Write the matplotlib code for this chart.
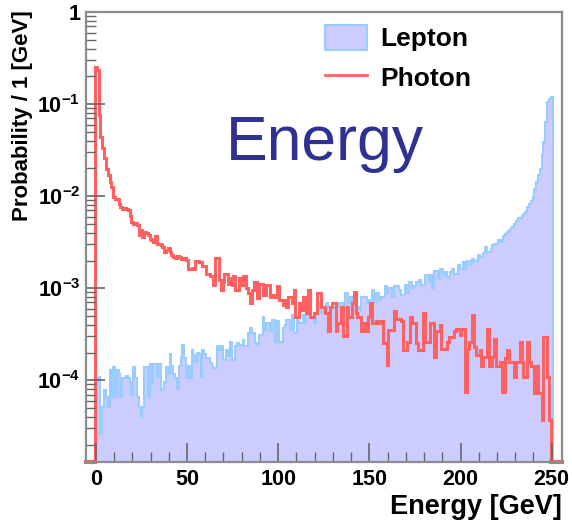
import matplotlib
matplotlib.use("Agg")
import matplotlib.pyplot as plt
import numpy as np
from matplotlib.patches import Patch
from matplotlib.lines import Line2D
from matplotlib.ticker import FixedLocator, MultipleLocator, NullFormatter

plt.rcParams['font.family'] = ['Liberation Sans', 'DejaVu Sans']
plt.rcParams['mathtext.fontset'] = 'custom'
plt.rcParams['mathtext.rm'] = 'Liberation Sans'
plt.rcParams['mathtext.bf'] = 'Liberation Sans:bold'

# log10 of probability per 1 GeV bin, bins centred on 0,1,2,... GeV
lepton_log10 = [
    -4.58, -3.98, -3.96, -4.58, -4.29, -4.11, -4.18, -4.29, -3.89, -4.18,
    -3.86, -4.18, -3.89, -3.93, -4.18, -3.98, -3.98, -3.95, -3.98, -4.02,
    -4.16, -3.86, -3.98, -4.18, -4.29, -4.40, -4.29, -3.86, -3.86, -4.18,
    -3.82, -4.04, -3.82, -3.82, -3.96, -3.82, -4.11, -4.09, -4.02, -3.86,
    -3.93, -3.71, -3.84, -3.93, -3.98, -4.09, -3.84, -3.75, -3.62, -3.76,
    -3.98, -3.84, -3.98, -3.67, -3.72, -3.80, -3.70, -3.71, -3.96, -3.67,
    -3.71, -3.76, -3.76, -3.81, -3.85, -3.87, -3.87, -3.63, -3.67, -3.63,
    -3.78, -3.78, -3.67, -3.74, -3.58, -3.78, -3.78, -3.63, -3.60, -3.62,
    -3.62, -3.56, -3.63, -3.63, -3.49, -3.43, -3.49, -3.49, -3.60, -3.62,
    -3.51, -3.51, -3.31, -3.45, -3.38, -3.38, -3.47, -3.34, -3.34, -3.58,
    -3.36, -3.58, -3.58, -3.43, -3.40, -3.34, -3.34, -3.45, -3.29, -3.49,
    -3.49, -3.31, -3.38, -3.38, -3.29, -3.38, -3.27, -3.27, -3.31, -3.31,
    -3.38, -3.27, -3.27, -3.16, -3.27, -3.20, -3.20, -3.16, -3.20, -3.22,
    -3.22, -3.20, -3.16, -3.20, -3.16, -3.16, -3.20, -3.05, -3.05, -3.16,
    -3.09, -3.18, -3.13, -3.13, -3.20, -3.24, -3.09, -3.09, -3.09, -3.16,
    -3.13, -3.13, -3.02, -3.15, -3.05, -3.05, -3.13, -3.09, -3.09, -2.98,
    -3.05, -3.00, -3.00, -3.09, -2.98, -2.98, -2.98, -3.02, -3.07, -3.07,
    -2.96, -3.05, -2.93, -2.93, -3.00, -2.98, -2.93, -2.93, -2.91, -2.96,
    -2.96, -2.86, -2.86, -2.93, -2.86, -3.00, -2.81, -2.81, -2.90, -2.79,
    -2.79, -2.86, -2.82, -2.88, -2.88, -2.82, -2.79, -2.84, -2.84, -2.75,
    -2.79, -2.79, -2.71, -2.79, -2.70, -2.70, -2.75, -2.68, -2.70, -2.70,
    -2.64, -2.66, -2.66, -2.62, -2.55, -2.61, -2.61, -2.57, -2.53, -2.52,
    -2.52, -2.48, -2.50, -2.48, -2.43, -2.41, -2.39, -2.37, -2.35, -2.33,
    -2.30, -2.27, -2.24, -2.24, -2.21, -2.19, -2.17, -2.12, -2.08, -2.05,
    -2.01, -1.92, -1.85, -1.77, -1.70, -1.55, -1.41, -1.19, -0.98, -0.94,
    -0.92,
]

photon_log10 = [
    -0.60, -0.63, -1.12, -1.36, -1.48, -1.59, -1.70, -1.77, -1.85, -1.90,
    -2.01, -2.03, -2.03, -2.08, -2.12, -2.14, -2.13, -2.14, -2.15, -2.22,
    -2.28, -2.30, -2.29, -2.31, -2.42, -2.37, -2.44, -2.39, -2.40, -2.42,
    -2.46, -2.48, -2.50, -2.43, -2.52, -2.52, -2.53, -2.55, -2.61, -2.58,
    -2.56, -2.61, -2.64, -2.66, -2.67, -2.65, -2.66, -2.68, -2.68, -2.67,
    -2.69, -2.79, -2.79, -2.78, -2.79, -2.70, -2.70, -2.71, -2.71, -2.76,
    -2.76, -2.84, -2.84, -2.87, -2.87, -2.96, -2.67, -2.67, -2.91, -3.02,
    -2.93, -2.84, -2.84, -2.95, -2.89, -2.96, -2.87, -3.02, -3.02, -2.89,
    -2.96, -2.87, -2.87, -3.00, -3.05, -3.16, -3.02, -2.93, -2.93, -3.11,
    -2.95, -2.95, -3.07, -3.07, -2.96, -2.96, -3.09, -3.07, -3.07, -3.09,
    -2.98, -3.13, -3.13, -3.18, -3.13, -3.20, -3.09, -3.09, -3.16, -3.02,
    -3.31, -3.31, -3.16, -3.24, -3.09, -3.09, -3.27, -3.02, -3.31, -3.31,
    -3.27, -3.27, -3.05, -3.05, -3.20, -3.20, -3.27, -3.27, -3.47, -3.20,
    -3.16, -3.16, -3.47, -3.38, -3.38, -3.20, -3.52, -3.52, -3.20, -3.31,
    -3.31, -3.16, -3.04, -3.27, -3.31, -3.31, -3.47, -3.38, -3.47, -3.47,
    -3.31, -3.16, -3.38, -3.38, -3.36, -3.38, -3.38, -3.36, -3.60, -3.60,
    -3.83, -3.45, -3.45, -3.45, -3.25, -3.33, -3.33, -3.33, -3.36, -3.67,
    -3.67, -3.58, -3.58, -3.31, -3.38, -3.38, -3.60, -3.67, -3.67, -3.67,
    -3.27, -3.58, -3.58, -3.58, -3.38, -3.38, -3.75, -3.47, -3.47, -3.40,
    -3.66, -3.66, -3.66, -3.58, -3.53, -3.53, -3.53, -3.47, -3.44, -3.44,
    -3.51, -3.44, -3.44, -4.13, -3.66, -3.58, -3.58, -3.29, -3.64, -3.73,
    -3.73, -3.67, -3.85, -3.75, -3.75, -3.44, -3.85, -3.85, -3.75, -3.55,
    -3.85, -3.85, -3.80, -4.13, -4.13, -3.76, -3.67, -3.80, -3.80, -3.80,
    -3.96, -3.80, -3.80, -3.58, -3.80, -3.96, -3.96, -3.58, -3.80, -3.84,
    -3.84, -4.14, -3.84, -4.14, -4.14, -4.43, -3.53, -3.53, -3.96, -4.43,
]

x_min, x_max = -5.5, 255.5
y_min, y_max = 1.3e-5, 1.0
y_ticks = [1e-4, 1e-3, 1e-2, 1e-1, 1]
y_tick_labels = [r'$\mathbf{10^{-4}}$', r'$\mathbf{10^{-3}}$', r'$\mathbf{10^{-2}}$',
                 r'$\mathbf{10^{-1}}$', '1']
x_ticks = [0, 50, 100, 150, 200, 250]

lepton = 10 ** np.array(lepton_log10)
photon = 10 ** np.array(photon_log10)
lepton_edges = np.arange(len(lepton) + 1) - 0.5
photon_edges = np.arange(len(photon) + 1) - 0.5

fig = plt.figure(figsize=(5.72, 5.26), dpi=100)
ax = fig.add_axes([0.150, 0.122, 0.832, 0.855])

lepton_fill = '#ccccff'
lepton_edge = '#99ccff'
photon_col = '#ff6060'

ax.stairs(lepton, lepton_edges, fill=True, baseline=y_min, facecolor=lepton_fill,
          edgecolor=lepton_edge, linewidth=1.5)
ax.stairs(photon, photon_edges, baseline=y_min, color=photon_col, linewidth=2.2)
# photon histogram is empty outside its range: ROOT draws it along the bottom
ax.plot([x_min, photon_edges[0]], [y_min, y_min], color=photon_col, lw=3, clip_on=False)
ax.plot([photon_edges[-1], x_max], [y_min, y_min], color=photon_col, lw=3, clip_on=False)

ax.set_yscale('log')
ax.set_xlim(x_min, x_max)
ax.set_ylim(y_min, y_max)

ax.yaxis.set_major_locator(FixedLocator(y_ticks))
ax.set_yticklabels(y_tick_labels)
minor_y = [m * 10.0 ** e for e in range(-5, 0) for m in range(2, 10)]
ax.yaxis.set_minor_locator(FixedLocator([v for v in minor_y if y_min < v < y_max]))
ax.yaxis.set_minor_formatter(NullFormatter())
ax.set_xticks(x_ticks)
ax.set_xticklabels([str(t) for t in x_ticks])
ax.xaxis.set_minor_locator(MultipleLocator(10))

frame_col = '#8c8c8c'
for s in ax.spines.values():
    s.set_color(frame_col)
    s.set_linewidth(1.6)
ax.tick_params(axis='both', which='both', direction='in', color='#666666',
               top=False, right=False, labelsize=15.5)
ax.tick_params(axis='both', which='major', length=14, width=1.2)
ax.tick_params(axis='both', which='minor', length=7, width=1.0)
ax.tick_params(axis='y', pad=4)
ax.tick_params(axis='x', pad=5)
for lab in ax.get_xticklabels() + ax.get_yticklabels():
    lab.set_fontweight('bold')

fig.text(0.982, 0.022, 'Energy [GeV]', ha='right', va='baseline', fontsize=19.5,
         fontweight='bold')
fig.text(0.040, 0.980, 'Probability / 1 [GeV]', rotation=90, ha='center', va='top',
         fontsize=16, fontweight='bold')

fig.text(226 / 572, 1 - 160 / 526, 'Energy', color='#2e3192', fontsize=45,
         ha='left', va='baseline')

handles = [Patch(facecolor=lepton_fill, edgecolor=lepton_edge, linewidth=1.5),
           Line2D([0], [0], color=photon_col, lw=2)]
ax.legend(handles, ['Lepton', 'Photon'], loc='upper left',
          bbox_to_anchor=(314 / 572, 1 - 14 / 526), bbox_transform=fig.transFigure,
          frameon=False, prop={'weight': 'bold', 'size': 19}, handlelength=1.6,
          handleheight=1.1, handletextpad=0.5, labelspacing=0.5, borderaxespad=0)

fig.savefig('out.png', dpi=100)
